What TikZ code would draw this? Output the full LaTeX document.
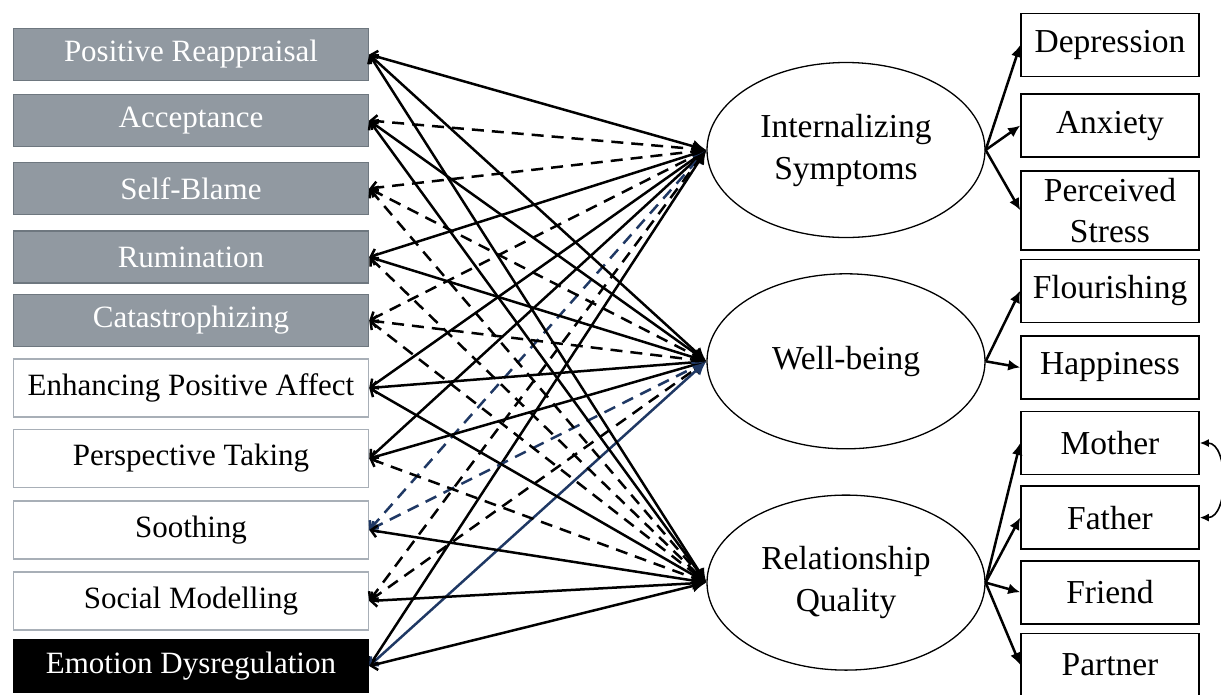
\documentclass[tikz,border=0pt]{standalone}
\usepackage{fontspec}
\setmainfont{Liberation Serif}
\usetikzlibrary{shapes,arrows.meta,positioning}

\definecolor{boxgray}{RGB}{145,153,161}
\definecolor{edgegray}{RGB}{110,119,127}
\definecolor{lightedge}{RGB}{168,175,183}
\definecolor{navy}{RGB}{31,56,100}

\tikzset{
  strat/.style={rectangle, draw=edgegray, fill=boxgray, text=white, line width=1.5pt,
    minimum width=355pt, minimum height=52pt, inner sep=0pt,
    font=\fontsize{31}{34}\selectfont},
  adapt/.style={strat, draw=lightedge, fill=white, text=black, minimum height=58pt},
  dysreg/.style={strat, draw=black, fill=black},
  outcome/.style={ellipse, draw, line width=1.3pt, minimum width=278pt, minimum height=175pt,
    align=center, font=\fontsize{33.5}{42}\selectfont},
  indic/.style={rectangle, draw, line width=1.6pt, minimum width=178pt, minimum height=63pt,
    inner sep=0pt, align=center, font=\fontsize{33.5}{41}\selectfont},
  sig/.style={line width=2.5pt, {Straight Barb[length=6pt,width=12pt]}-{Latex[length=14pt,width=13pt]}},
  ns/.style={sig, dash pattern=on 12pt off 8pt},
  load/.style={line width=2.5pt, -{Latex[length=12pt,width=11pt]}},
}

\begin{document}
\begin{tikzpicture}[x=1pt, y=-1pt]
        \useasboundingbox (0,0) rectangle (1221,694);

        % emotion regulation strategies
        \node[strat] (pr) at (191,54.5) {Positive Reappraisal};
        \node[strat, below=12.5pt of pr] (acc) {Acceptance};
        \node[strat, below=14.5pt of acc] (sb) {Self-Blame};
        \node[strat, below=15pt of sb] (rum) {Rumination};
        \node[strat, below=10pt of rum] (cat) {Catastrophizing};
        \node[adapt, below=11pt of cat] (epa) {Enhancing Positive Affect};
        \node[adapt, below=11pt of epa] (pt) {Perspective Taking};
        \node[adapt, below=12pt of pt] (soo) {Soothing};
        \node[adapt, below=11.5pt of soo] (sm) {Social Modelling};
        \node[dysreg, below=8.5pt of sm] (ed) {Emotion Dysregulation};

        % latent outcomes
        \node[outcome] (is) at (846,150) {Internalizing\\Symptoms};
        \node[outcome, below=35pt of is] (wb) {Well-being};
        \node[outcome, below=45pt of wb] (rq) {Relationship\\Quality};

        % indicators
        \node[indic] (dep) at (1110,45) {Depression};
        \node[indic, below=16pt of dep] (anx) {Anxiety};
        \node[indic, below=12pt of anx, minimum height=79pt] (ps) {Perceived\\Stress};
        \node[indic, below=8pt of ps] (flo) {Flourishing};
        \node[indic, below=12pt of flo] (hap) {Happiness};
        \node[indic, below=11pt of hap] (mot) {Mother};
        \node[indic, below=10pt of mot] (fat) {Father};
        \node[indic, below=10pt of fat] (fri) {Friend};
        \node[indic, below=8pt of fri] (par) {Partner};

        % paths to internalizing symptoms
        \draw[sig] (pr.east) -- (is.west);
        \draw[ns] (acc.east) -- (is.west);
        \draw[ns] (sb.east) -- (is.west);
        \draw[sig] (rum.east) -- (is.west);
        \draw[ns] (cat.east) -- (is.west);
        \draw[sig] (epa.east) -- (is.west);
        \draw[sig] (pt.east) -- (is.west);
        \draw[ns, navy] (soo.east) -- (is.west);
        \draw[ns] (sm.east) -- (is.west);
        \draw[sig] (ed.east) -- (is.west);

        % paths to well-being
        \draw[sig] (pr.east) -- (wb.west);
        \draw[sig] (acc.east) -- (wb.west);
        \draw[ns] (sb.east) -- (wb.west);
        \draw[sig] (rum.east) -- (wb.west);
        \draw[ns] (cat.east) -- (wb.west);
        \draw[sig] (epa.east) -- (wb.west);
        \draw[sig] (pt.east) -- (wb.west);
        \draw[ns, navy] (soo.east) -- (wb.west);
        \draw[ns] (sm.east) -- (wb.west);
        \draw[sig, navy] (ed.east) -- (wb.west);

        % paths to relationship quality
        \draw[sig] (pr.east) -- (rq.west);
        \draw[sig] (acc.east) -- (rq.west);
        \draw[ns] (sb.east) -- (rq.west);
        \draw[ns] (rum.east) -- (rq.west);
        \draw[ns] (cat.east) -- (rq.west);
        \draw[sig] (epa.east) -- (rq.west);
        \draw[ns] (pt.east) -- (rq.west);
        \draw[sig] (soo.east) -- (rq.west);
        \draw[sig] (sm.east) -- (rq.west);
        \draw[sig] (ed.east) -- (rq.west);

        % measurement arrows
        \draw[load] (is.east) -- (dep.west);
        \draw[load] (is.east) -- (anx.west);
        \draw[load] (is.east) -- (ps.west);
        \draw[load] (wb.east) -- (flo.west);
        \draw[load] (wb.east) -- (hap.west);
        \draw[load] (rq.east) -- (mot.west);
        \draw[load] (rq.east) -- (fat.west);
        \draw[load] (rq.east) -- (fri.west);
        \draw[load] (rq.east) -- (par.west);

        % covariance between parents
        \draw[line width=1.6pt, {Latex[length=9pt,width=8pt]}-{Latex[length=9pt,width=8pt]}]
            (mot.east) to[out=0, in=0] (fat.east);

        \end{tikzpicture}
\end{document}
